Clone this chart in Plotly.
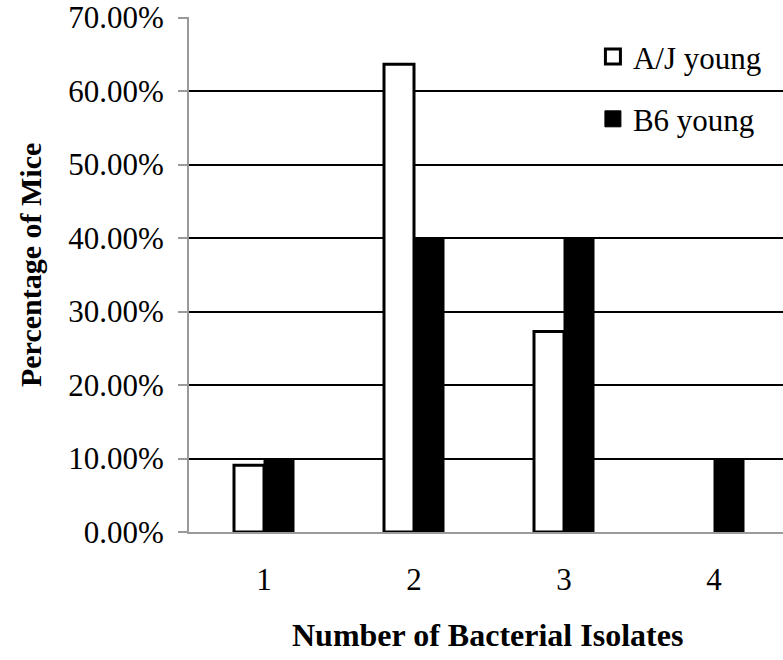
import plotly.graph_objects as go

categories = [1, 2, 3, 4]
aj_young = [9.09, 63.64, 27.27, 0.0]
b6_young = [10.0, 40.0, 40.0, 10.0]
series_names = ["A/J young", "B6 young"]
y_ticks = [0, 10, 20, 30, 40, 50, 60, 70]
y_tick_labels = ["0.00%", "10.00%", "20.00%", "30.00%", "40.00%", "50.00%", "60.00%", "70.00%"]

FONT = "Liberation Serif, Times New Roman, serif"

fig = go.Figure()
fig.add_trace(go.Bar(x=categories, y=aj_young, name=series_names[0], showlegend=False,
                     marker=dict(color="white",
                                 line=dict(color="black",
                                           width=[3 if v > 0 else 0 for v in aj_young]))))
fig.add_trace(go.Bar(x=categories, y=b6_young, name=series_names[1], showlegend=False,
                     marker=dict(color="black", line=dict(color="black", width=1))))
# legend entries
fig.add_trace(go.Scatter(x=[None], y=[None], mode="markers", name=series_names[0],
                         legendgroup="a",
                         marker=dict(symbol="square", size=15, color="white",
                                     line=dict(color="black", width=3))))
fig.add_trace(go.Scatter(x=[None], y=[None], mode="markers", name=series_names[1],
                         legendgroup="b",
                         marker=dict(symbol="square", size=16, color="black",
                                     line=dict(color="black", width=1))))

fig.update_layout(
    width=783, height=660,
    margin=dict(l=189, r=0, t=17, b=128),
    paper_bgcolor="white", plot_bgcolor="white",
    font=dict(family=FONT, color="black", size=31),
    barmode="group", bargap=0.6, bargroupgap=0,
    showlegend=True,
    legend=dict(x=0.68, y=0.975, xanchor="left", yanchor="top",
                bgcolor="rgba(0,0,0,0)", borderwidth=0,
                font=dict(family=FONT, size=31, color="black"),
                traceorder="grouped", tracegroupgap=19),
    shapes=[dict(type="rect", xref="paper", yref="paper", layer="between",
                 x0=0.662, x1=1.0, y0=0.80, y1=0.96,
                 fillcolor="white", line=dict(width=0))],
)
fig.update_xaxes(
    range=[0.5, 4.46], tickvals=categories, ticktext=[str(c) for c in categories],
    showgrid=False, zeroline=False,
    showline=True, linecolor="#9a9a9a", linewidth=2,
    ticks="", ticklabelstandoff=19,
    tickfont=dict(family=FONT, size=31, color="black"),
)
fig.update_yaxes(
    range=[0, 70.08], tickvals=y_ticks, ticktext=y_tick_labels,
    showgrid=True, gridcolor="black", gridwidth=2, zeroline=False,
    showline=True, linecolor="#9a9a9a", linewidth=2,
    ticks="outside", ticklen=9, tickcolor="#9a9a9a", tickwidth=2,
    ticklabelstandoff=8,
    tickfont=dict(family=FONT, size=31, color="black"),
)
fig.add_annotation(text="<b>Number of Bacterial Isolates</b>", xref="paper", yref="paper",
                   x=0.503, y=-0.2, xanchor="center", yanchor="middle", showarrow=False,
                   font=dict(family=FONT, size=32, color="black"))
fig.add_annotation(text="<b>Percentage of Mice</b>", xref="paper", yref="paper",
                   x=-0.268, y=0.518, xanchor="center", yanchor="middle", showarrow=False,
                   textangle=-90, font=dict(family=FONT, size=30, color="black"))

fig.write_html("out.html")
